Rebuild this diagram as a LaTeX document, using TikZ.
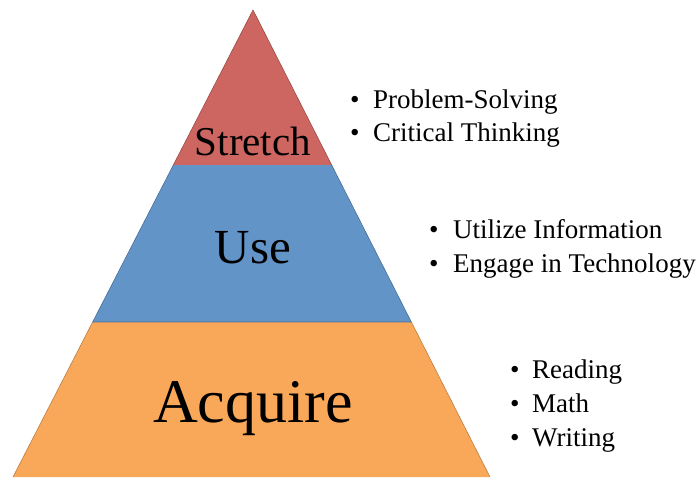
\documentclass[tikz,border=0pt]{standalone}
\usepackage{fontspec}
\setmainfont{Liberation Serif}
\usepackage{tikz}
\usetikzlibrary{calc}
\definecolor{stretchred}{RGB}{205,102,96}
\definecolor{usedblue}{RGB}{98,148,200}
\definecolor{acqorange}{RGB}{249,168,90}
\tikzset{item/.style={anchor=base west, inner sep=0pt, font=\fontsize{27}{30}\selectfont}}
\tikzset{level/.style={anchor=base, inner sep=0pt}}

\begin{document}
\begin{tikzpicture} [x=1pt,y=-1pt]
    \useasboundingbox (0,0) rectangle (698,477);
    \coordinate (apex) at (253,10);
    \coordinate (bl) at (13,477);
    \coordinate (br) at (490,477);
    \coordinate (s1l) at ($(apex)!0.3319!(bl)$);
    \coordinate (s1r) at ($(apex)!0.3319!(br)$);
    \coordinate (s2l) at ($(apex)!0.668!(bl)$);
    \coordinate (s2r) at ($(apex)!0.668!(br)$);
    \fill[acqorange] (s2l)--(s2r)--(br)--(bl)--cycle;
    \fill[usedblue] (s1l)--(s1r)--(s2r)--(s2l)--cycle;
    \fill[stretchred] (apex)--(s1r)--(s1l)--cycle;
    \draw[acqorange!75!black, line width=.6pt] (s2l)--(bl) (s2r)--(br);
    \draw[usedblue!75!black, line width=.6pt] (s1l)--(s2l)--(s2r)--(s1r);
    \draw[stretchred!75!black, line width=.6pt] (s1l)--(apex)--(s1r);
    \node[level, font=\fontsize{41}{44}\selectfont] (stretch) at (253,155) {Stretch};
    \node[level, font=\fontsize{49}{52}\selectfont] (use) at (253,263) {Use};
    \node[level, font=\fontsize{62}{66}\selectfont] (acquire) at (253,422) {Acquire};
    \foreach \t [count=\i] in {Problem-Solving,Critical Thinking} {
      \node[item] (str\i) at (350,108+33*\i-33) {\textbullet\hspace{13.5pt}\t};
    }
    \foreach \t [count=\i] in {Utilize Information,Engage in Technology} {
      \node[item] (use\i) at (429,238+34*\i-34) {\textbullet\hspace{14.5pt}\t};
    }
    \foreach \t [count=\i] in {Reading,Math,Writing} {
      \node[item] (acq\i) at (510,378+34*\i-34) {\textbullet\hspace{12.5pt}\t};
    }
\end{tikzpicture}
\end{document}
